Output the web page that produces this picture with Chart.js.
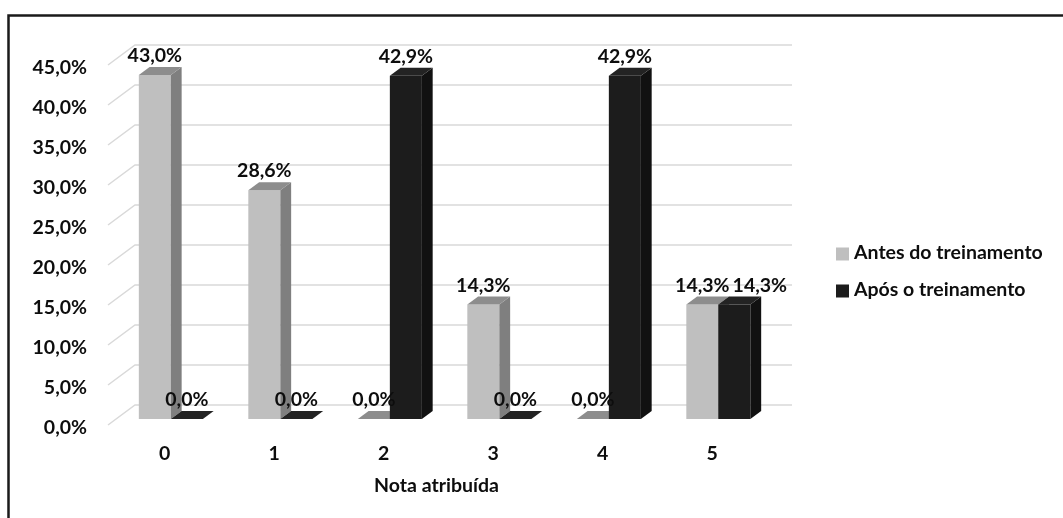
<!DOCTYPE html>
<html>
<head>
<meta charset="utf-8">
<script src="https://cdn.jsdelivr.net/npm/chart.js@4/dist/chart.umd.min.js"></script>
<style>
  html, body { margin: 0; padding: 0; background: #fff; }
  #wrap { width: 1063px; height: 518px; position: relative; }
</style>
</head>
<body>
<div id="wrap"><canvas id="c" width="1063" height="518"></canvas></div>
<script>
// Scores given (x axis categories)
const categories = ['0', '1', '2', '3', '4', '5'];
// Share of answers per score, in percent
const beforeTraining = [43.0, 28.6, 0.0, 14.3, 0.0, 14.3];
const afterTraining = [0.0, 0.0, 42.9, 0.0, 42.9, 14.3];
const seriesNames = ['Antes do treinamento', 'Após o treinamento'];
const yTicks = { min: 0, max: 45, step: 5 };

const FONT = { family: 'Lato, "Open Sans", sans-serif', size: 19.5, weight: 'bold' };
const TEXT = '#0d0d0d';

// Oblique projection: floor depth (front -> back wall) and bar placement within it
const DEPTH = { dx: 27, dy: -20 };
const BAR_FRONT = 0.3;   // fraction of depth where bar front faces sit
const BAR_DEPTH = 0.4;   // fraction of depth taken by each bar

const palette = [
  { front: '#bfbfbf', top: '#8d8d8d', side: '#7f7f7f' },
  { front: '#1c1c1c', top: '#232323', side: '#111111' }
];

const fmt = v => v.toFixed(1).replace('.', ',') + '%';

function poly(ctx, pts, color) {
  ctx.beginPath();
  ctx.moveTo(pts[0][0], pts[0][1]);
  for (let i = 1; i < pts.length; i++) ctx.lineTo(pts[i][0], pts[i][1]);
  ctx.closePath();
  ctx.fillStyle = color;
  ctx.fill();
}

const frame = {
  id: 'frame',
  beforeDraw(chart) {
    const ctx = chart.ctx;
    ctx.save();
    ctx.strokeStyle = '#1a1a1a';
    ctx.lineWidth = 2.5;
    ctx.beginPath();
    ctx.moveTo(8.5, 520);
    ctx.lineTo(8.5, 15.5);
    ctx.lineTo(1070, 15.5);
    ctx.stroke();
    ctx.restore();
  }
};

const wallGrid = {
  id: 'wallGrid',
  beforeDatasetsDraw(chart) {
    const { ctx, chartArea } = chart;
    const y = chart.scales.y;
    ctx.save();
    ctx.strokeStyle = '#d9d9d9';
    ctx.lineWidth = 1.5;
    for (let v = yTicks.min; v <= yTicks.max; v += yTicks.step) {
      const py = y.getPixelForValue(v);
      ctx.beginPath();
      ctx.moveTo(chartArea.left, py);
      ctx.lineTo(chartArea.left + DEPTH.dx, py + DEPTH.dy);
      ctx.lineTo(chartArea.right + DEPTH.dx, py + DEPTH.dy);
      ctx.stroke();
    }
    ctx.restore();
  }
};

const bars3d = {
  id: 'bars3d',
  afterDatasetsDraw(chart) {
    const ctx = chart.ctx;
    const ox = DEPTH.dx * BAR_FRONT, oy = DEPTH.dy * BAR_FRONT;
    const bx = DEPTH.dx * BAR_DEPTH, by = DEPTH.dy * BAR_DEPTH;
    const labels = [];
    ctx.save();
    const n = chart.data.labels.length;
    for (let j = 0; j < n; j++) {
      chart.data.datasets.forEach((ds, i) => {
        const el = chart.getDatasetMeta(i).data[j];
        const c = palette[i];
        const L = el.x - el.width / 2 + ox;
        const R = el.x + el.width / 2 + ox;
        const T = el.y + oy;
        const B = el.base + oy;
        if (B - T > 0.5) {
          poly(ctx, [[L, T], [R, T], [R, B], [L, B]], c.front);
          poly(ctx, [[R, T], [R + bx, T + by], [R + bx, B + by], [R, B]], c.side);
        }
        poly(ctx, [[L, T], [R, T], [R + bx, T + by], [L + bx, T + by]], c.top);
        labels.push({ text: fmt(ds.data[j]), x: (L + R) / 2, y: T - 19 });
      });
    }
    // data labels, nudged sideways when neighbours would collide
    ctx.font = `${FONT.weight} ${FONT.size}px ${FONT.family}`;
    ctx.fillStyle = TEXT;
    ctx.textAlign = 'left';
    ctx.textBaseline = 'middle';
    let prev = null;
    labels.forEach(lb => {
      const w = ctx.measureText(lb.text).width;
      let left = lb.x - w / 2;
      if (prev && Math.abs(prev.y - lb.y) < FONT.size && left < prev.right + 3) {
        left = prev.right + 3;
      }
      ctx.fillText(lb.text, left, lb.y);
      prev = { right: left + w, y: lb.y };
    });
    ctx.restore();
  }
};

const sideLegend = {
  id: 'sideLegend',
  afterDraw(chart) {
    const ctx = chart.ctx;
    ctx.save();
    ctx.font = `${FONT.weight} ${FONT.size}px ${FONT.family}`;
    ctx.textBaseline = 'middle';
    ctx.textAlign = 'left';
    chart.data.datasets.forEach((ds, i) => {
      const cy = 254 + i * 37;
      ctx.fillStyle = palette[i].front;
      ctx.fillRect(836, cy - 6.5, 13, 13);
      ctx.fillStyle = TEXT;
      ctx.fillText(ds.label, 854, cy - 1);
    });
    ctx.restore();
  }
};

new Chart(document.getElementById('c'), {
  type: 'bar',
  data: {
    labels: categories,
    datasets: [
      { label: seriesNames[0], data: beforeTraining, backgroundColor: 'rgba(0,0,0,0)' },
      { label: seriesNames[1], data: afterTraining, backgroundColor: 'rgba(0,0,0,0)' }
    ]
  },
  options: {
    responsive: false,
    animation: false,
    devicePixelRatio: 1,
    layout: { padding: { left: 0, top: 65, right: 298, bottom: 0 } },
    datasets: { bar: { categoryPercentage: 0.585, barPercentage: 1.0 } },
    plugins: { legend: { display: false }, tooltip: { enabled: false } },
    scales: {
      x: {
        grid: { display: false, drawTicks: false },
        border: { display: false },
        ticks: { color: TEXT, font: FONT, padding: 17, labelOffset: 2 },
        title: { display: true, text: 'Nota atribuída', color: TEXT, font: FONT, padding: { top: 0, bottom: 21 } },
        afterFit(s) { s.height = 93; }
      },
      y: {
        min: yTicks.min,
        max: yTicks.max,
        grid: { display: false, drawTicks: false },
        border: { display: false },
        ticks: { stepSize: yTicks.step, color: TEXT, font: FONT, padding: 21, labelOffset: 3, callback: v => fmt(v) },
        afterFit(s) { s.width = 108; }
      }
    }
  },
  plugins: [frame, wallGrid, bars3d, sideLegend]
});
</script>
</body>
</html>
